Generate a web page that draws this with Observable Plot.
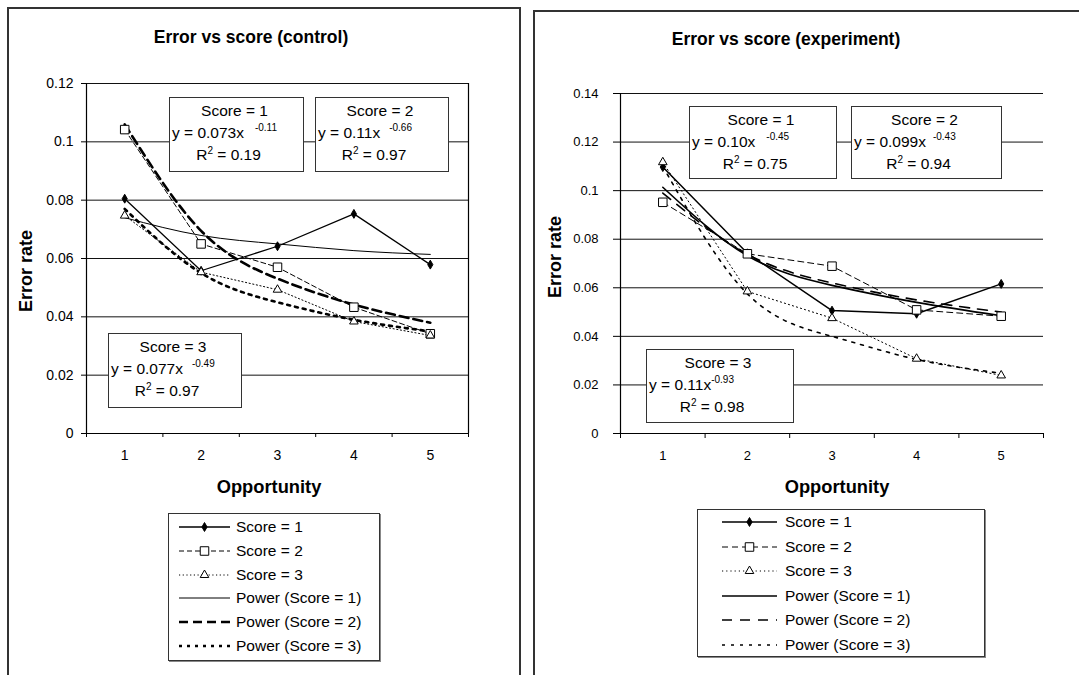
<!DOCTYPE html>
<html><head><meta charset="utf-8">
<script src="https://cdn.jsdelivr.net/npm/d3@7"></script>
<script src="https://cdn.jsdelivr.net/npm/@observablehq/plot@0.6"></script>
<style>
body{margin:0;background:#fff;font-family:"Liberation Sans",Arial,sans-serif;color:#000}
#page{position:relative;width:1079px;height:675px;overflow:hidden;background:#fff}
.panel{position:absolute;border:2px solid #333;box-sizing:border-box}
.plotwrap{position:absolute;top:0}
.t{position:absolute;white-space:nowrap;line-height:1}
.box{position:absolute;background:#fff;border:1px solid #333;box-sizing:border-box}
.legend{position:absolute;background:#fff;border:1px solid #333;box-sizing:border-box;box-shadow:1px 1px 0 #888}
sup{font-size:10px;vertical-align:0;position:relative;top:-7px}
</style>
</head><body><div id="page"></div>
<script>
// ---------- data ----------
const categories = [1, 2, 3, 4, 5];
const seriesNames = ["Score = 1", "Score = 2", "Score = 3", "Power (Score = 1)", "Power (Score = 2)", "Power (Score = 3)"];

const ctrlScore1 = [0.0805, 0.0558, 0.0642, 0.0753, 0.0579];
const ctrlScore2 = [0.1042, 0.0650, 0.0570, 0.0433, 0.0342];
const ctrlScore3 = [0.0747, 0.0553, 0.0493, 0.0384, 0.0336];
const ctrlPower1 = [0.0740, 0.0679, 0.0650, 0.0627, 0.0614];
const ctrlPower2 = [0.1060, 0.0695, 0.0531, 0.0442, 0.0380];
const ctrlPower3 = [0.0770, 0.0550, 0.0450, 0.0390, 0.0350];

const expScore1 = [0.1097, 0.0742, 0.0506, 0.0493, 0.0616];
const expScore2 = [0.0952, 0.0740, 0.0689, 0.0509, 0.0483];
const expScore3 = [0.1117, 0.0585, 0.0475, 0.0308, 0.0239];
const expPower1 = [0.1014, 0.0732, 0.0610, 0.0540, 0.0485];
const expPower2 = [0.0990, 0.0738, 0.0620, 0.0550, 0.0500];
const expPower3 = [0.1100, 0.0575, 0.0400, 0.0305, 0.0248];

const ctrlYTicks = [0, 0.02, 0.04, 0.06, 0.08, 0.1, 0.12];
const expYTicks = [0, 0.02, 0.04, 0.06, 0.08, 0.1, 0.12, 0.14];

const ctrlEquations = [
  {name: "Score = 1", coef: "0.073", exp: "-0.11", r2: "0.19"},
  {name: "Score = 2", coef: "0.11", exp: "-0.66", r2: "0.97"},
  {name: "Score = 3", coef: "0.077", exp: "-0.49", r2: "0.97"}
];
const expEquations = [
  {name: "Score = 1", coef: "0.10", exp: "-0.45", r2: "0.75"},
  {name: "Score = 2", coef: "0.099", exp: "-0.43", r2: "0.94"},
  {name: "Score = 3", coef: "0.11", exp: "-0.93", r2: "0.98"}
];

// ---------- styles ----------
const ctrlStyles = [
  {w: 1.3, dash: null, sym: "diamond", r: 2.7, fill: "#000"},
  {w: 1, dash: "5,3", sym: "square", r: 4.8, fill: "#fff"},
  {w: 1, dash: "1.2,2.5", sym: "triangle", r: 3.2, fill: "#fff"},
  {w: 1, dash: null},
  {w: 2.6, dash: "9,5"},
  {w: 2.6, dash: "3,5"}
];
const expStyles = [
  {w: 1.5, dash: null, sym: "diamond", r: 2.7, fill: "#000"},
  {w: 1, dash: "6,4", sym: "square", r: 4.8, fill: "#fff"},
  {w: 1, dash: "1.2,3", sym: "triangle", r: 3.2, fill: "#fff"},
  {w: 1.6, dash: null},
  {w: 1.6, dash: "10,8"},
  {w: 1.6, dash: "3,6"}
];

const page = document.getElementById("page");
const toRows = vals => categories.map((c, i) => ({x: c, y: vals[i]}));
const fmt = d => String(+d.toFixed(2));

function el(tag, cls, css, html) {
  const e = document.createElement(tag);
  if (cls) e.className = cls;
  Object.assign(e.style, css || {});
  if (html != null) e.innerHTML = html;
  page.appendChild(e);
  return e;
}

function chart(o) {
  const bounds = categories.map(c => c - 0.5).concat([categories[categories.length - 1] + 0.5]);
  const lines = [];
  const dots = [];
  for (let i = 3; i < 6; i++) {
    const s = o.styles[i];
    lines.push(Plot.line(toRows(o.series[i]), {x: "x", y: "y", stroke: "#000", strokeWidth: s.w, strokeDasharray: s.dash, curve: "natural"}));
  }
  for (let i = 0; i < 3; i++) {
    const s = o.styles[i];
    lines.push(Plot.line(toRows(o.series[i]), {x: "x", y: "y", stroke: "#000", strokeWidth: s.w, strokeDasharray: s.dash}));
    dots.push(Plot.dot(toRows(o.series[i]), {x: "x", y: "y", symbol: s.sym, r: s.r, fill: s.fill, stroke: "#000", strokeWidth: 1}));
  }
  const marks = [
    Plot.ruleY(o.yTicks, {stroke: "#111", strokeWidth: 1}),
    Plot.ruleX([bounds[0]], {stroke: "#000", strokeWidth: 1.2}),
    o.frameRight ? Plot.ruleX([bounds[bounds.length - 1]], {stroke: "#000", strokeWidth: 1.2}) : null,
    Plot.ruleY([0], {stroke: "#000", strokeWidth: 1.2}),
    Plot.axisY({ticks: o.yTicks, tickSize: o.yTickSize, tickPadding: o.yTickPad, tickFormat: fmt, fontSize: o.fs, label: null}),
    Plot.axisX({ticks: bounds, tickSize: o.xTickSize, tickFormat: () => "", label: null}),
    Plot.axisX({ticks: categories, tickSize: 0, tickPadding: o.xTickPad, tickFormat: d => String(d), fontSize: o.fs, label: null}),
    ...lines,
    ...dots
  ];
  return Plot.plot({
    width: o.w, height: o.h,
    marginLeft: o.ml, marginRight: o.mr, marginTop: o.mt, marginBottom: o.mb,
    x: {domain: [bounds[0], bounds[bounds.length - 1]], label: null},
    y: {domain: [0, o.ymax], label: null},
    style: {background: "transparent", fontFamily: '"Liberation Sans", Arial, sans-serif', color: "#000", overflow: "visible"},
    marks
  });
}

// ---------- panels ----------
el("div", "panel", {left: "7px", top: "7px", width: "514px", height: "700px"});
el("div", "panel", {left: "533px", top: "10px", width: "600px", height: "700px"});

const leftWrap = el("div", "plotwrap", {left: "0px"});
leftWrap.appendChild(chart({
  w: 520, h: 500, ml: 86, mr: 52, mt: 83, mb: 67, ymax: 0.12, yTicks: ctrlYTicks,
  series: [ctrlScore1, ctrlScore2, ctrlScore3, ctrlPower1, ctrlPower2, ctrlPower3],
  styles: ctrlStyles, frameRight: true, yTickSize: 5, yTickPad: 8, xTickSize: 4, xTickPad: 17, fs: 14
}));
const rightWrap = el("div", "plotwrap", {left: "533px"});
rightWrap.appendChild(chart({
  w: 546, h: 500, ml: 87, mr: 36, mt: 93, mb: 67, ymax: 0.14, yTicks: expYTicks,
  series: [expScore1, expScore2, expScore3, expPower1, expPower2, expPower3],
  styles: expStyles, frameRight: false, yTickSize: 7, yTickPad: 15, xTickSize: 5, xTickPad: 17, fs: 13
}));

// ---------- titles & axis labels ----------
function ctext(x, y, txt, css) {
  return el("div", "t", Object.assign({left: x + "px", top: y + "px", transform: "translate(-50%,-50%)"}, css), txt);
}
ctext(251, 38, "Error vs score (control)", {fontWeight: "bold", fontSize: "17.5px"});
ctext(786, 40, "Error vs score (experiment)", {fontWeight: "bold", fontSize: "17.5px"});
ctext(269, 487, "Opportunity", {fontWeight: "bold", fontSize: "18.3px"});
ctext(837, 487, "Opportunity", {fontWeight: "bold", fontSize: "18.3px"});
ctext(26, 271, "Error rate", {fontWeight: "bold", fontSize: "18px", transform: "translate(-50%,-50%) rotate(-90deg)"});
ctext(555, 257, "Error rate", {fontWeight: "bold", fontSize: "18px", transform: "translate(-50%,-50%) rotate(-90deg)"});

// ---------- equation boxes ----------
function eqBox(b, eq, gap) {
  el("div", "box", {left: b[0] + "px", top: b[1] + "px", width: (b[2] - b[0]) + "px", height: (b[3] - b[1]) + "px"});
  const cx = (b[0] + b[2]) / 2;
  ctext(cx - 2, b[1] + 14, eq.name, {fontSize: "15.5px"});
  el("div", "t", {left: (b[0] + 3) + "px", top: (b[1] + 36) + "px", transform: "translateY(-50%)", fontSize: "15.5px"},
     `y = ${eq.coef}x<sup style="margin-left:${gap}px">${eq.exp}</sup>`);
  ctext(cx - 8, b[1] + 58, `R<sup style="top:-6px">2</sup> = ${eq.r2}`, {fontSize: "15.5px"});
}
eqBox([169, 97, 304, 172], ctrlEquations[0], 11);
eqBox([315, 97, 449, 172], ctrlEquations[1], 9);
eqBox([108, 333, 242, 408], ctrlEquations[2], 9);
eqBox([689, 106, 837, 179], expEquations[0], 11);
eqBox([851, 106, 1002, 179], expEquations[1], 7);
eqBox([646, 349, 794, 423], expEquations[2], 0);

// ---------- legends ----------
function legend(b, styles, sampleX0, sampleW, textX, rowY0, rowStep) {
  el("div", "legend", {left: b[0] + "px", top: b[1] + "px", width: (b[2] - b[0]) + "px", height: (b[3] - b[1]) + "px"});
  seriesNames.forEach((name, i) => {
    const s = styles[i];
    const y = rowY0 + i * rowStep;
    const svg = d3.create("svg").attr("width", sampleW).attr("height", 14)
      .style("position", "absolute").style("left", sampleX0 + "px").style("top", (y - 7) + "px");
    svg.append("line").attr("x1", 0).attr("x2", sampleW).attr("y1", 7).attr("y2", 7)
      .attr("stroke", "#000").attr("stroke-width", s.w).attr("stroke-dasharray", s.dash);
    if (s.sym) {
      const symMap = {diamond: d3.symbolDiamond, square: d3.symbolSquare, triangle: d3.symbolTriangle};
      svg.append("path").attr("d", d3.symbol(symMap[s.sym], Math.PI * s.r * s.r)())
        .attr("transform", `translate(${sampleW / 2},7)`).attr("fill", s.fill).attr("stroke", "#000");
    }
    page.appendChild(svg.node());
    el("div", "t", {left: textX + "px", top: y + "px", transform: "translateY(-50%)", fontSize: "15.5px"}, name);
  });
}
legend([168, 513, 380, 661], ctrlStyles, 179, 51, 236, 527, 23.8);
legend([697, 509, 985, 657], expStyles, 722, 55, 785, 522, 24.6);
</script>
</body></html>
